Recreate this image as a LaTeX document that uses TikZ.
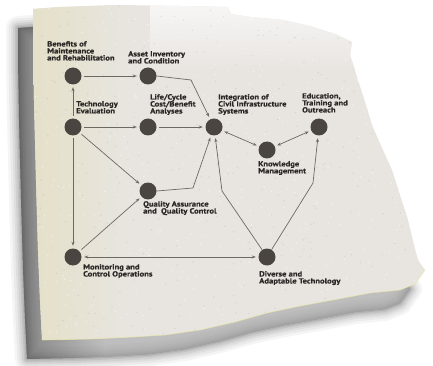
\documentclass[tikz,border=0pt]{standalone}
\usepackage{fontspec}
\setmainfont{PT Sans}
\newfontfamily\lblfont[FakeBold=0.6, FakeStretch=1.16]{PT Sans Bold}
\usetikzlibrary{arrows.meta}
\definecolor{paperc}{HTML}{E8E5E1}
\definecolor{papercream}{HTML}{E4E0C8}
\definecolor{dotc}{HTML}{4B4541}
\definecolor{linec}{HTML}{6E6862}
\definecolor{txtc}{HTML}{2B2725}
\newcommand\paperpath{(33,9) -- (60,7) -- (120,5) -- (180,6) -- (228,7) -- (231,14) -- (250,17) -- (283,20) -- (310,26) -- (335,34) -- (352,42)
 -- (350,55) -- (358,80) -- (366,105) -- (372,125) -- (382,148) -- (392,170) -- (400,195) -- (408,220) -- (414,245) -- (418,260) -- (425,270)
 -- (415,284) -- (400,290) -- (370,293) -- (333,300) -- (300,306) -- (267,313) -- (235,322) -- (200,330) -- (165,335) -- (133,337) -- (90,339) -- (42,340)
 -- (40,300) -- (38,250) -- (36,180) -- (34,100) -- (33,40) -- cycle}
\tikzset{
  dot/.style={circle, fill=dotc, minimum size=17pt, inner sep=0pt},
  lbl/.style={anchor=north west, align=left, inner sep=0pt, text=txtc,
    font=\lblfont\fontsize{7.4}{7}\selectfont},
  conn/.style={draw=linec, line width=0.7pt, shorten >=2.5pt, shorten <=2.5pt},
  arr/.style={conn, -{Stealth[length=4pt,width=3pt]}},
  darr/.style={conn, {Stealth[length=4pt,width=3pt]}-{Stealth[length=4pt,width=3pt]}},
  bentarr/.style={draw=linec, line width=0.7pt, shorten >=2.5pt, -{Stealth[length=4pt,width=3pt]}}
}
\begin{document}
\begin{tikzpicture}[x=1pt,y=-1pt]
\useasboundingbox (0,0) rectangle (433,366);
\fill[white] (0,0) rectangle (433,366);
% shadow
\begin{scope}[shift={(-15,19)}]
  \foreach \lw/\op in {24/0.04, 19/0.045, 14/0.05, 10/0.06, 6/0.07, 3/0.08}
    \filldraw[black, opacity=\op, line width=\lw pt, line join=round] \paperpath;
  \begin{scope}
    \clip \paperpath;
    \shade[left color=black!80, right color=black!20, opacity=0.5] (10,0) rectangle (120,400);
    \fill[black!20, opacity=0.5] (120,0) rectangle (450,400);
  \end{scope}
\end{scope}
% paper
\fill[paperc] \paperpath;
\begin{scope}
  \clip \paperpath;
  \shade[left color=papercream, right color=paperc] (30,0) rectangle (130,366);
  \shade[top color=white!70!paperc, bottom color=paperc] (150,0) rectangle (360,70);
  \pgfmathsetseed{7}
  \foreach \i in {1,...,500}
    \fill[white, opacity=0.55] ({230+200*rand},{175+170*rand}) circle (0.7);
  \foreach \i in {1,...,350}
    \fill[black, opacity=0.07] ({230+200*rand},{175+170*rand}) circle (0.8);
\end{scope}
\draw[papercream!80!yellow, line width=0.8pt, opacity=0.6] (42,340) -- (90,339) -- (133,337) -- (165,335) -- (200,330) -- (235,322) -- (267,313) -- (300,306) -- (333,300) -- (370,293) -- (400,290) -- (415,284) -- (425,270);
% nodes
\node[dot] (B) at (73,76) {};
\node[dot] (A) at (148,76) {};
\node[dot] (T) at (73,127) {};
\node[dot] (L) at (148,127) {};
\node[dot] (I) at (214,127) {};
\node[dot] (K) at (267,150) {};
\node[dot] (E) at (319,127) {};
\node[dot] (Q) at (148,191) {};
\node[dot] (M) at (73,257) {};
\node[dot] (D) at (267,257) {};
% bend points
\coordinate (a1) at (191,80);
\coordinate (q1) at (193,188);
\coordinate (d1) at (222,191);
\coordinate (d2) at (313,183);
% connectors
\path[arr] (B) -- (A);
\path[arr] (T) -- (B);
\path[arr] (T) -- (L);
\path[arr] (L) -- (I);
\path[arr] (T) -- (Q);
\path[arr] (T) -- (M);
\path[arr] (M) -- (Q);
\path[darr] (I) -- (K);
\path[darr] (K) -- (E);
\path[darr] (M) -- (D);
\path[bentarr] (A.east) -- (a1) -- (I);
\path[bentarr] (Q.east) -- (q1) -- (I);
\path[bentarr] (D) -- (d1) -- (I);
\path[bentarr] (D) -- (d2) -- (E);
% labels
\node[lbl] (lB) at (47,41) {Benefits of\\Maintenance\\and Rehabilitation};
\node[lbl] (lA) at (128,51) {Asset Inventory\\and Condition};
\node[lbl] (lT) at (76,101) {Technology\\Evaluation};
\node[lbl] (lL) at (150,94) {Life/Cycle\\Cost/Benefit\\Analyses};
\node[lbl] (lI) at (218,94) {Integration of\\Civil Infrastructure\\Systems};
\node[lbl] (lE) at (302,93) {Education,\\Training and\\Outreach};
\node[lbl] (lK) at (258,161) {Knowledge\\Management};
\node[lbl] (lQ) at (143,201) {Quality Assurance\\and\ \ Quality Control};
\node[lbl] (lM) at (83,264) {Monitoring and\\Control Operations};
\node[lbl] (lD) at (259,271) {Diverse and\\Adaptable Technology};
\end{tikzpicture}
\end{document}
